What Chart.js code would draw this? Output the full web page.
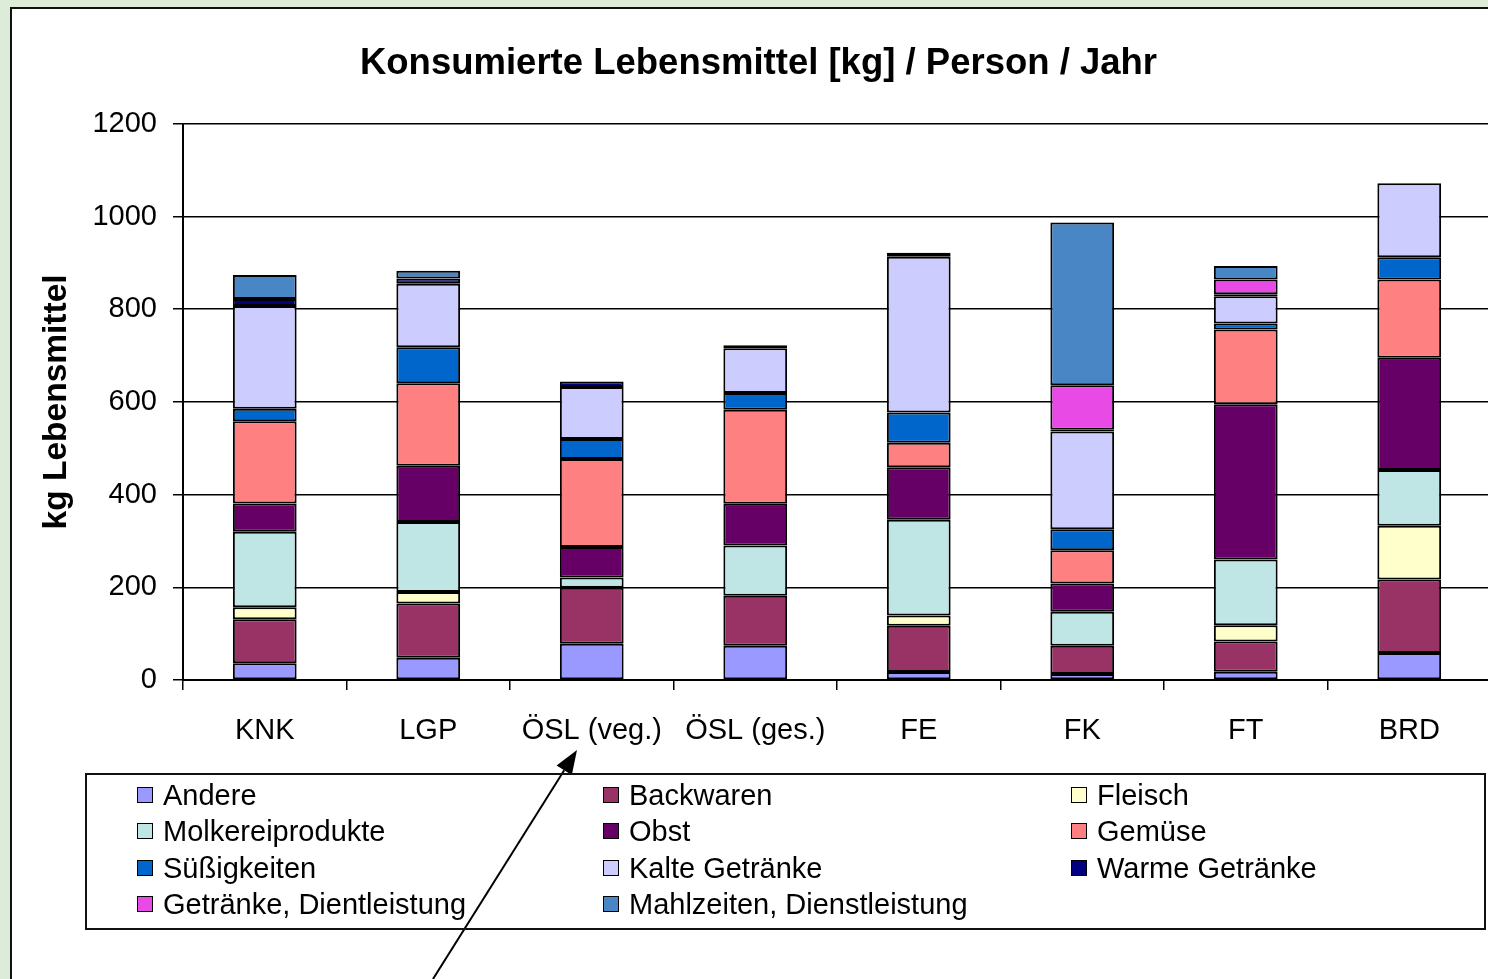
<!DOCTYPE html>
<html>
<head>
<meta charset="utf-8">
<script src="https://cdn.jsdelivr.net/npm/chart.js@4"></script>
<style>
  html, body { margin: 0; padding: 0; width: 1488px; height: 979px; overflow: hidden; background: #dcecd8; }
  #frame { position: absolute; left: 10px; top: 7px; width: 1600px; height: 1100px; background: #fff; border: 2px solid #111; }
  #wrap { position: absolute; left: 0; top: 0; width: 1517px; height: 979px; }
  #legend { position: absolute; left: 85px; top: 773px; width: 1397px; height: 153px; border: 2px solid #111;
            font-family: "Liberation Sans", Arial, sans-serif; font-size: 29px; color: #000; }
  .item { position: absolute; height: 34px; line-height: 34px; white-space: nowrap; }
  .box { display: inline-block; width: 14px; height: 14px; border: 1.5px solid #000; vertical-align: middle;
         margin-right: 10px; position: relative; top: -2px; }
</style>
</head>
<body>
<div id="frame"></div>
<div id="wrap"><canvas id="myChart"></canvas></div>
<div id="legend"></div>
<script>
const categories = ['KNK', 'LGP', 'ÖSL (veg.)', 'ÖSL (ges.)', 'FE', 'FK', 'FT', 'BRD'];

const andere        = [36, 48, 78, 74, 17, 13, 18, 58];
const backwaren     = [95, 117, 121, 108, 100, 61, 65, 159];
const fleisch       = [26, 25, 0, 0, 22, 0, 35, 116];
const molkerei      = [163, 151, 22, 108, 207, 73, 142, 120];
const obst          = [61, 121, 66, 90, 113, 61, 335, 242];
const gemuese       = [177, 178, 190, 203, 53, 72, 161, 169];
const suessigkeiten = [27, 78, 43, 36, 65, 45, 13, 48];
const kalteGetr     = [222, 137, 112, 97, 336, 211, 59, 160];
const warmeGetr     = [15, 11, 12, 6, 9, 4, 4, 0];
const getrDienst    = [0, 0, 0, 0, 0, 96, 32, 0];
const mahlzeiten    = [52, 17, 0, 0, 0, 351, 29, 0];

const yTicks = [0, 200, 400, 600, 800, 1000, 1200];

const FONT = '"Liberation Sans", Arial, sans-serif';
Chart.defaults.color = '#000';
Chart.defaults.font.family = FONT;

function ds(label, values, color) {
    return {
        label: label,
        data: values,
        backgroundColor: color,
        borderColor: '#000',
        borderWidth: 2,
        borderSkipped: false,
        barPercentage: 0.39,
        categoryPercentage: 1
    };
}

const data = {
    labels: categories,
    datasets: [
        ds('Andere', andere, '#9999ff'),
        ds('Backwaren', backwaren, '#993366'),
        ds('Fleisch', fleisch, '#ffffcc'),
        ds('Molkereiprodukte', molkerei, '#bfe6e5'),
        ds('Obst', obst, '#660066'),
        ds('Gemüse', gemuese, '#ff8080'),
        ds('Süßigkeiten', suessigkeiten, '#0066cc'),
        ds('Kalte Getränke', kalteGetr, '#ccccff'),
        ds('Warme Getränke', warmeGetr, '#000080'),
        ds('Getränke, Dientleistung', getrDienst, '#e84ae6'),
        ds('Mahlzeiten, Dienstleistung', mahlzeiten, '#4886c6')
    ]
};

// pointer arrow towards the "ÖSL (veg.)" label
const arrowPlugin = {
    id: 'arrow',
    afterDraw(chart) {
        const c = chart.ctx;
        const x0 = 433, y0 = 979, x1 = 577, y1 = 750;
        const len = Math.hypot(x1 - x0, y1 - y0);
        const ux = (x1 - x0) / len, uy = (y1 - y0) / len;
        const bx = x1 - ux * 24, by = y1 - uy * 24;
        c.save();
        c.strokeStyle = '#000';
        c.fillStyle = '#000';
        c.lineWidth = 2;
        c.beginPath();
        c.moveTo(x0, y0);
        c.lineTo(bx, by);
        c.stroke();
        c.beginPath();
        c.moveTo(x1, y1);
        c.lineTo(bx - uy * 9, by + ux * 9);
        c.lineTo(bx + uy * 9, by - ux * 9);
        c.closePath();
        c.fill();
        c.restore();
    }
};

const config = {
    type: 'bar',
    data: data,
    plugins: [arrowPlugin],
    options: {
        responsive: true,
        maintainAspectRatio: false,
        animation: false,
        layout: { padding: { left: 26, right: 26, top: 0, bottom: 0 } },
        plugins: {
            legend: { display: false },
            tooltip: { enabled: false },
            title: {
                display: true,
                text: 'Konsumierte Lebensmittel [kg] / Person / Jahr',
                color: '#000',
                font: { size: 36.5, weight: 'bold' },
                padding: { top: 42, bottom: 38 }
            }
        },
        scales: {
            x: {
                stacked: true,
                afterFit: function (scale) { scale.height = 299; },
                grid: { drawOnChartArea: false, drawTicks: true, tickLength: 10, color: '#000', lineWidth: 1.5, offset: true },
                border: { color: '#000', width: 2 },
                ticks: { font: { size: 29 }, padding: 24, maxRotation: 0, autoSkip: false }
            },
            y: {
                stacked: true,
                min: 0,
                max: 1200,
                afterFit: function (scale) { scale.width = 157; },
                afterBuildTicks: function (scale) { scale.ticks = yTicks.map(v => ({ value: v })); },
                grid: { color: '#000', lineWidth: 1.5, tickLength: 10 },
                border: { color: '#000', width: 2 },
                ticks: { font: { size: 29 }, padding: 16, callback: v => String(v) },
                title: {
                    display: true,
                    text: 'kg Lebensmittel',
                    font: { size: 33.5, weight: 'bold' },
                    padding: { top: 11, bottom: 0 }
                }
            }
        }
    }
};

const ctx = document.getElementById('myChart');
const chart = new Chart(ctx, config);

// legend in three fixed columns, built from the chart's datasets
const legendEl = document.getElementById('legend');
const colX = [50, 516, 984];
const rowY = [3, 39, 76, 112];
chart.data.datasets.forEach(function (d, i) {
    const item = document.createElement('div');
    item.className = 'item';
    item.style.left = colX[i % 3] + 'px';
    item.style.top = rowY[Math.floor(i / 3)] + 'px';
    const box = document.createElement('span');
    box.className = 'box';
    box.style.background = d.backgroundColor;
    item.appendChild(box);
    item.appendChild(document.createTextNode(d.label));
    legendEl.appendChild(item);
});
</script>
</body>
</html>
